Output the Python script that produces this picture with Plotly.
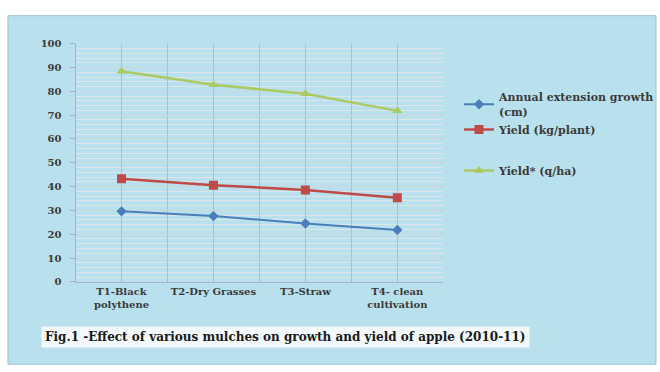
import plotly.graph_objects as go

categories = ["T1-Black<br>polythene", "T2-Dry Grasses", "T3-Straw", "T4- clean<br>cultivation"]
growth = [29.6, 27.6, 24.5, 21.8]
yield_plant = [43.3, 40.6, 38.6, 35.3]
yield_ha = [88.4, 82.8, 79.0, 71.8]
series_names = ["Annual extension growth<br>(cm)", "Yield (kg/plant)", "Yield* (q/ha)"]
y_ticks = [0, 10, 20, 30, 40, 50, 60, 70, 80, 90, 100]
caption = "Fig.1 -Effect of various mulches on growth and yield of apple (2010-11)"

xs = list(range(len(categories)))
FONT = "DejaVu Serif"

# x gridlines at each category and halfway between categories
x_tickvals = []
x_ticktext = []
for i, c in enumerate(categories):
    x_tickvals += [i - 0.5, i]
    x_ticktext += ["", "<b>" + c + "</b>"]
x_tickvals.append(len(categories) - 0.5)
x_ticktext.append("")

fig = go.Figure()
fig.add_trace(go.Scatter(x=xs, y=growth, name="<b>" + series_names[0] + "</b>", mode="lines+markers",
                         line=dict(color="#4A7EBB", width=2),
                         marker=dict(symbol="diamond", size=8, color="#4A7EBB"),
                         legendgroup="a"))
fig.add_trace(go.Scatter(x=xs, y=yield_plant, name="<b>" + series_names[1] + "</b>", mode="lines+markers",
                         line=dict(color="#BE4B48", width=2.5),
                         marker=dict(symbol="square", size=9, color="#BE4B48"),
                         legendgroup="a"))
fig.add_trace(go.Scatter(x=xs, y=yield_ha, name="<b>" + series_names[2] + "</b>", mode="lines+markers",
                         line=dict(color="#ABCB62", width=2.5),
                         marker=dict(symbol="triangle-up", size=9, color="#ABCB62"),
                         legendgroup="c"))

fig.update_layout(
    width=660, height=372,
    margin=dict(l=0, r=0, t=0, b=0),
    paper_bgcolor="white",
    plot_bgcolor="#F3FAFC",
    showlegend=True,
    legend=dict(x=462/660, y=1-80/372, xanchor="left", yanchor="top",
                bgcolor="rgba(0,0,0,0)",
                font=dict(family=FONT, size=11, color="#3a3a3a"),
                tracegroupgap=22, itemwidth=30),
    shapes=[dict(type="rect", xref="paper", yref="paper", x0=8/660, x1=1, y0=0.005, y1=1-10/372,
                 fillcolor="#B9E1ED", line=dict(color="#9FC3CF", width=1), layer="below")],
    annotations=[dict(text="<b>" + caption + "</b>", xref="paper", yref="paper",
                      x=41/660, y=1-342/372, xanchor="left", yanchor="middle", showarrow=False,
                      font=dict(family=FONT, size=12, color="#1a1a1a"),
                      bgcolor="rgba(250,252,252,0.9)", borderpad=3)],
)

fig.update_xaxes(domain=[76/660, 446/660], range=[-0.5, 3.5],
                 tickvals=x_tickvals, ticktext=x_ticktext,
                 tickfont=dict(family=FONT, size=10, color="#3a3a3a"),
                 showgrid=True, gridcolor="#B3BDC4", gridwidth=1,
                 zeroline=False, showline=True, linecolor="#A9B4BA", ticks="", ticklen=0)
fig.update_yaxes(domain=[1-285/372, 1-39/372], range=[0, 100],
                 tickvals=y_ticks, ticktext=["<b>%d</b>" % v for v in y_ticks],
                 tickfont=dict(family=FONT, size=10, color="#3a3a3a"),
                 showgrid=True, gridcolor="#CDD7DC", gridwidth=1,
                 minor=dict(dtick=2, showgrid=True, gridcolor="#DDE5E8"),
                 zeroline=False, showline=True, linecolor="#A9B4BA",
                 ticks="outside", ticklen=5, tickcolor="#A9B4BA", ticklabelstandoff=6)

fig.write_html("out.html")
